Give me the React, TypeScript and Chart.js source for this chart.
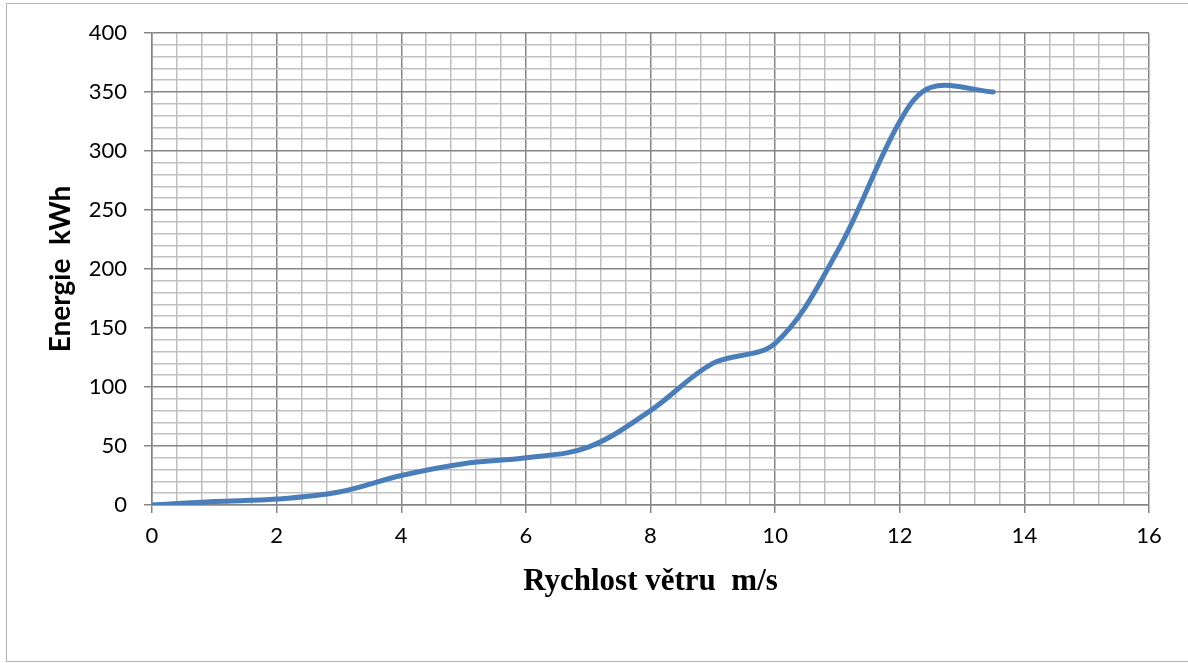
import React, { useEffect, useRef } from "react";
import { Chart, registerables } from "chart.js";

Chart.register(...registerables);

// Data
const windSpeed = [0, 1, 2, 3, 4, 5, 6, 7, 8, 9, 10, 11, 12, 12.5, 13.5];
const energy = [0, 3, 5, 11, 25, 35, 40, 49, 80, 120, 137, 215, 325, 354, 350];

const xTickLabels = ["0", "2", "4", "6", "8", "10", "12", "14", "16"];
const yTickLabels = ["0", "50", "100", "150", "200", "250", "300", "350", "400"];

const xTitle = "Rychlost větru  m/s";
const yTitle = "Energie  kWh";

const MAJOR = "#858585";
const MINOR = "#c0c0c0";

const isMult = (v: number, m: number) => Math.abs(v / m - Math.round(v / m)) < 1e-6;

const frame = {
  id: "frame",
  beforeDraw(chart: any) {
    const ctx = chart.ctx;
    ctx.save();
    ctx.fillStyle = "#ffffff";
    ctx.fillRect(0, 0, chart.width, chart.height);
    ctx.strokeStyle = "#b4b4b4";
    ctx.lineWidth = 1;
    ctx.strokeRect(6.5, 3.5, 1200, 658);
    ctx.restore();
  },
};

export default function App() {
  const ref = useRef<HTMLCanvasElement>(null);
  useEffect(() => {
    if (!ref.current) return;
    const chart = new Chart(ref.current, {
      type: "line",
      data: {
        datasets: [
          {
            data: windSpeed.map((x, i) => ({ x, y: energy[i] })),
            borderColor: "#4a7ebb",
            borderWidth: 5,
            pointRadius: 0,
            tension: 0.35,
            borderCapStyle: "round",
            borderJoinStyle: "round",
            fill: false,
          },
        ],
      },
      options: {
        responsive: false,
        animation: false,
        devicePixelRatio: 1,
        layout: { padding: { top: 33, right: 39, left: 0, bottom: 0 } },
        plugins: { legend: { display: false }, tooltip: { enabled: false } },
        scales: {
          x: {
            type: "linear",
            min: 0,
            max: 16,
            afterFit: (s: any) => {
              s.height = 158;
            },
            ticks: {
              stepSize: 0.4,
              maxTicksLimit: 100,
              autoSkip: false,
              maxRotation: 0,
              padding: 10,
              color: "#000",
              font: { family: "Lato", size: 22 },
              callback: (v: any) => {
                const n = Number(v);
                if (!isMult(n, 2)) return "";
                const lbl = xTickLabels[Math.round(n / 2)];
                return lbl ?? "";
              },
            },
            grid: {
              color: (c: any) => (c.tick && isMult(c.tick.value, 2) ? MAJOR : MINOR),
              lineWidth: 1.5,
              tickColor: (c: any) => (c.tick && isMult(c.tick.value, 2) ? MAJOR : "rgba(0,0,0,0)"),
              tickLength: 8,
              drawTicks: true,
            },
            border: { display: true, color: MAJOR, width: 1.5 },
            title: {
              display: true,
              text: xTitle,
              color: "#000",
              font: { family: "Liberation Serif", size: 31, weight: "bold" },
              padding: { top: 0, bottom: 62 },
            },
          },
          y: {
            type: "linear",
            min: 0,
            max: 400,
            afterFit: (s: any) => {
              s.width = 152;
            },
            ticks: {
              stepSize: 10,
              maxTicksLimit: 100,
              autoSkip: false,
              padding: 17,
              color: "#000",
              font: { family: "Lato", size: 22 },
              callback: (v: any) => {
                const n = Number(v);
                if (!isMult(n, 50)) return "";
                const lbl = yTickLabels[Math.round(n / 50)];
                return lbl ?? "";
              },
            },
            grid: {
              color: (c: any) => (c.tick && isMult(c.tick.value, 50) ? MAJOR : MINOR),
              lineWidth: 1.5,
              tickColor: (c: any) => (c.tick && isMult(c.tick.value, 50) ? MAJOR : "rgba(0,0,0,0)"),
              tickLength: 8,
              drawTicks: true,
            },
            border: { display: true, color: MAJOR, width: 1.5 },
            title: {
              display: true,
              text: yTitle,
              color: "#000",
              font: { family: "Lato", size: 28, weight: "bold" },
              padding: { top: 44, bottom: 0 },
            },
          },
        },
      },
      plugins: [frame],
    });
    return () => chart.destroy();
  }, []);
  return (
    <div style={{ position: "absolute", left: 0, top: 0, width: 1188, height: 663 }}>
      <canvas ref={ref} width={1188} height={663} style={{ display: "block" }} />
    </div>
  );
}
